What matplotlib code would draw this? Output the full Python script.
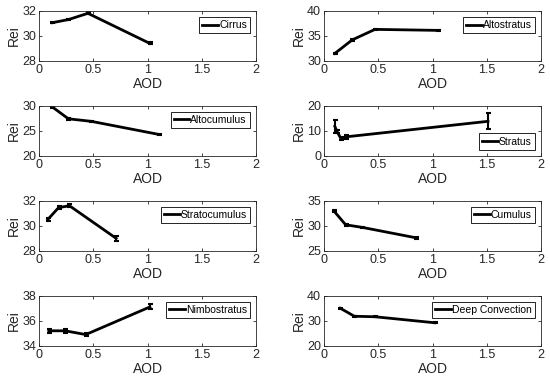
import numpy as np
import matplotlib
matplotlib.use("Agg")
import matplotlib.pyplot as plt
from matplotlib.lines import Line2D

plt.rcParams['font.family'] = ['Liberation Sans', 'DejaVu Sans']

# cloud types, one panel each (left column then right column per row)
names = ["Cirrus", "Altostratus", "Altocumulus", "Stratus",
         "Stratocumulus", "Cumulus", "Nimbostratus", "Deep Convection"]

aod = [
    [0.12, 0.27, 0.45, 1.02],
    [0.10, 0.26, 0.47, 1.05],
    [0.12, 0.27, 0.48, 1.10],
    [0.10, 0.12, 0.155, 0.20, 1.51],
    [0.08, 0.18, 0.28, 0.71],
    [0.09, 0.20, 0.35, 0.85],
    [0.09, 0.24, 0.43, 1.02],
    [0.15, 0.28, 0.47, 1.02],
]
rei = [
    [31.05, 31.3, 31.8, 29.4],
    [31.5, 34.2, 36.3, 36.1],
    [29.8, 27.4, 26.9, 24.3],
    [11.8, 9.8, 7.0, 7.6, 13.8],
    [30.5, 31.45, 31.6, 29.0],
    [33.0, 30.2, 29.7, 27.6],
    [35.2, 35.2, 34.9, 37.1],
    [35.0, 31.8, 31.6, 29.2],
]
err = [
    [0.06, 0.06, 0.08, 0.08],
    [0.15, 0.15, 0.15, 0.15],
    [0.15, 0.15, 0.15, 0.15],
    [2.7, 0.6, 0.5, 0.7, 3.2],
    [0.15, 0.12, 0.12, 0.18],
    [0.15, 0.15, 0.15, 0.15],
    [0.18, 0.18, 0.12, 0.2],
    [0.25, 0.25, 0.25, 0.25],
]
ylims = [(28, 32), (30, 40), (20, 30), (0, 20),
         (28, 32), (25, 35), (34, 38), (20, 40)]
yticks = [[28, 30, 32], [30, 35, 40], [20, 25, 30], [0, 10, 20],
          [28, 30, 32], [25, 30, 35], [34, 36, 38], [20, 30, 40]]
xticks = [0, 0.5, 1, 1.5, 2]
xticklabels = ["0", "0.5", "1", "1.5", "2"]

fig = plt.figure(figsize=(5.5, 3.86), dpi=100)

lefts = [0.071, 0.589]
bottoms = [0.842, 0.596, 0.350, 0.104]
w, h = 0.395, 0.13

for i, name in enumerate(names):
    r, c = divmod(i, 2)
    ax = fig.add_axes([lefts[c], bottoms[r], w, h])
    ax.errorbar(aod[i], rei[i], yerr=err[i], color='black', lw=2,
                elinewidth=1.5, capsize=1.8, capthick=1.5)
    ax.set_xlim(0, 2)
    ax.set_ylim(*ylims[i])
    ax.set_xticks(xticks)
    ax.set_xticklabels(xticklabels)
    ax.set_yticks(yticks[i])
    ax.tick_params(direction='in', top=True, right=True, length=2.5,
                   width=0.6, labelsize=9, color='#262626',
                   labelcolor='#262626', pad=2)
    for s in ax.spines.values():
        s.set_linewidth(0.6)
        s.set_color('#262626')
    ax.set_xlabel("AOD", fontsize=10, labelpad=1, color='#262626')
    ax.set_ylabel("Rei", fontsize=10, labelpad=1, color='#262626')
    loc = 'lower right' if name == "Stratus" else 'upper right'
    handle = Line2D([], [], color='black', lw=2)
    leg = ax.legend([handle], [name], loc=loc, fontsize=7.5, handlelength=1.5,
                    handletextpad=0.1, borderpad=0.3, borderaxespad=0.6,
                    fancybox=False, framealpha=1, edgecolor='black')
    leg.get_frame().set_linewidth(0.6)

fig.savefig("out.png", dpi=100)
